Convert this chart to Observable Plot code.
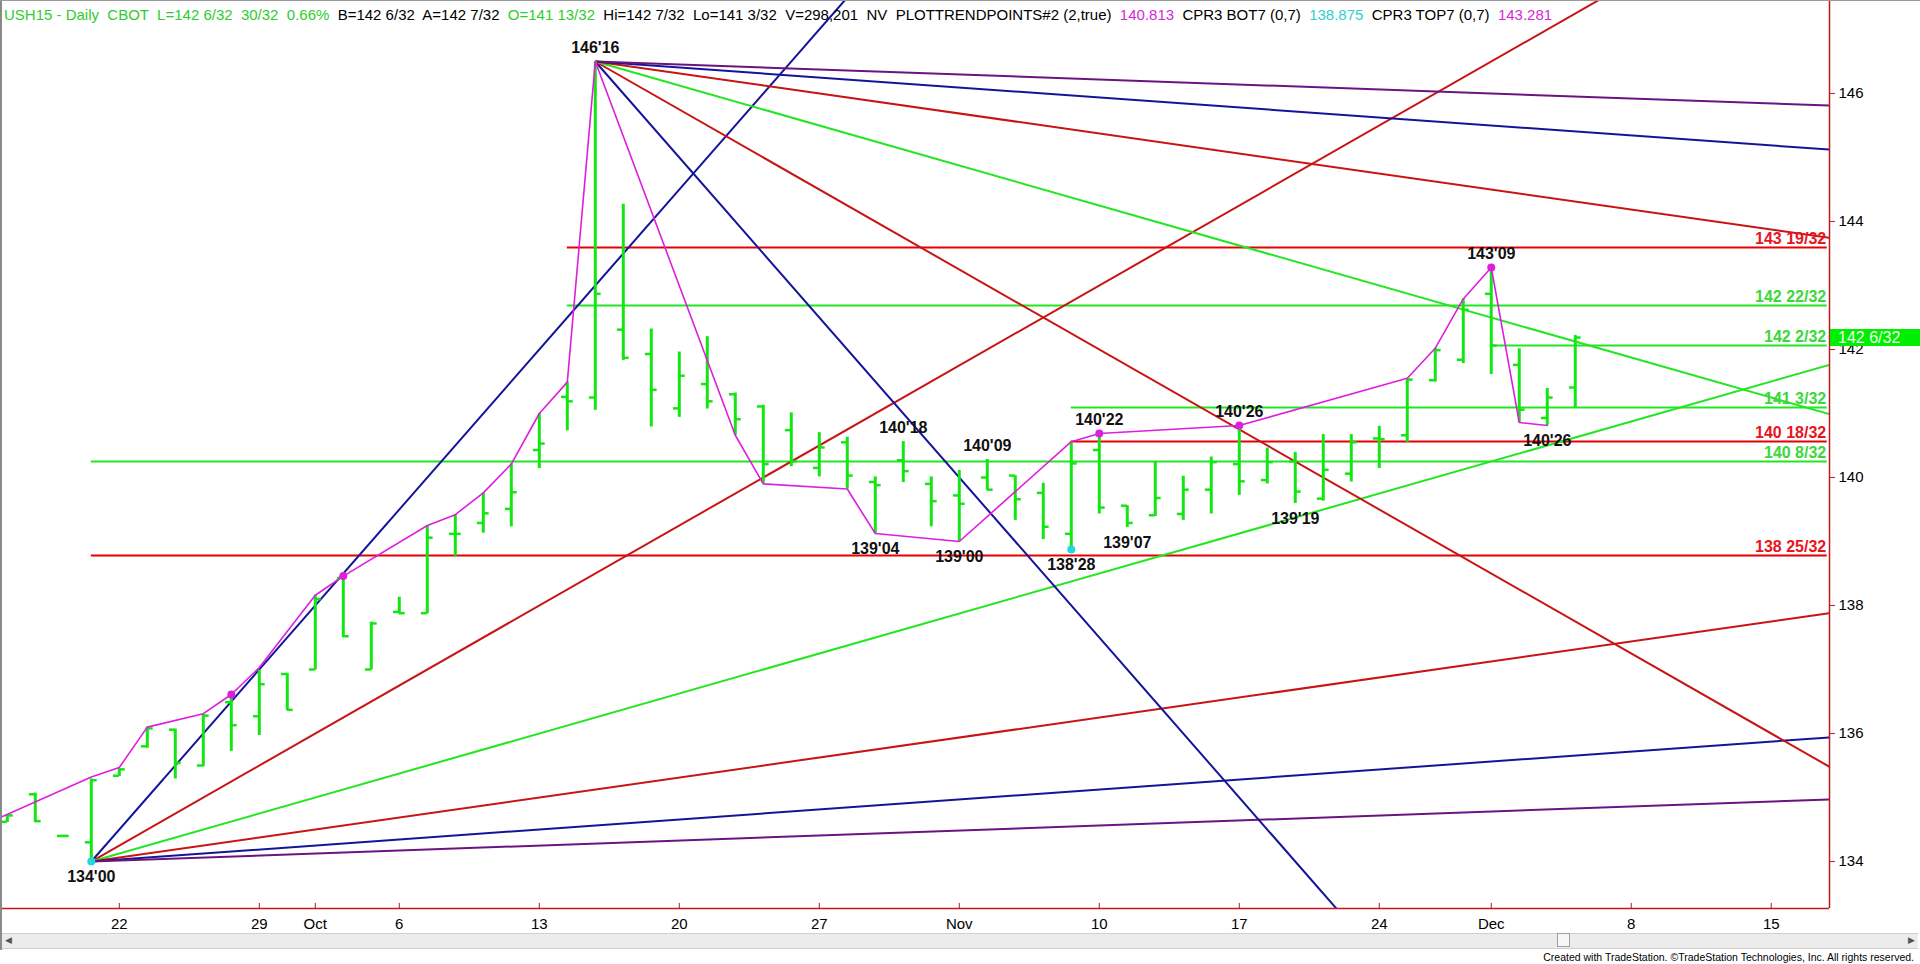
<!DOCTYPE html>
<html>
<head>
<meta charset="utf-8">
<script src="https://cdn.jsdelivr.net/npm/d3@7"></script>
<script src="https://cdn.jsdelivr.net/npm/@observablehq/plot@0.6"></script>
<style>
html,body{margin:0;padding:0;background:#fff;width:1920px;height:964px;overflow:hidden;}
#wrap{position:relative;width:1920px;height:964px;font-family:Arial,"Liberation Sans",sans-serif;}
#chart{position:absolute;left:0;top:0;}
#header{position:absolute;left:4px;top:6px;font-size:15px;line-height:18px;white-space:pre;color:#000;}
.g{color:#2ecc2e}.m{color:#d42ad4}.c{color:#2fcfcf}
#frameL{position:absolute;left:0;top:0;width:2px;height:950px;background:#8a8a8a;}
#frameT{position:absolute;left:0;top:0;width:1920px;height:1px;background:#9a9a9a;}
#scroll{position:absolute;left:2px;top:933px;width:1916px;height:14px;background:#ececec;border-top:1px solid #d0d0d0;border-bottom:1px solid #d0d0d0;}
#thumb{position:absolute;left:1557px;top:933px;width:13px;height:14px;background:#f7f7f7;border:1px solid #a0a0a0;box-sizing:border-box;}
.arr{position:absolute;top:933px;font-size:9px;color:#555;line-height:14px;}
#created{position:absolute;right:6px;top:951px;font-size:10.5px;color:#000;white-space:pre;}
#lastbox{position:absolute;left:1830px;width:90px;height:17px;background:#00ee00;color:#f2fff2;font-size:16px;line-height:17px;padding-left:8px;box-sizing:border-box;}
</style>
</head>
<body>
<div id="wrap">
  <div id="chart"></div>
  <div id="frameL"></div>
  <div id="frameT"></div>
  <div id="header"><span class="g">USH15 - Daily  CBOT  L=142 6/32  30/32  0.66%</span>  B=142 6/32  A=142 7/32  <span class="g">O=141 13/32</span>  Hi=142 7/32  Lo=141 3/32  V=298,201  NV  PLOTTRENDPOINTS#2 (2,true)  <span class="m">140.813</span>  CPR3 BOT7 (0,7)  <span class="c">138.875</span>  CPR3 TOP7 (0,7)  <span class="m">143.281</span></div>
  <div id="scroll"></div>
  <div id="thumb"></div>
  <div class="arr" style="left:5px">&#9664;</div>
  <div class="arr" style="left:1908px">&#9654;</div>
  <div id="created">Created with TradeStation. ©TradeStation Technologies, Inc. All rights reserved.</div>
</div>
<script>
// ---------------- DATA ----------------
// trading days: index 0 = Sep 22, 2014 (first bar Sep 16 = -4)
const barDates = ["Sep 16","Sep 17","Sep 18","Sep 19","Sep 22","Sep 23","Sep 24","Sep 25","Sep 26","Sep 29","Sep 30",
  "Oct 1","Oct 2","Oct 3","Oct 6","Oct 7","Oct 8","Oct 9","Oct 10","Oct 13","Oct 14","Oct 15","Oct 16","Oct 17",
  "Oct 20","Oct 21","Oct 22","Oct 23","Oct 24","Oct 27","Oct 28","Oct 29","Oct 30","Oct 31",
  "Nov 3","Nov 4","Nov 5","Nov 6","Nov 7","Nov 10","Nov 11","Nov 12","Nov 13","Nov 14","Nov 17","Nov 18","Nov 19",
  "Nov 20","Nov 21","Nov 24","Nov 25","Nov 26","Nov 28","Dec 1","Dec 2","Dec 3","Dec 4"];
const firstDay = -4;
const opens = [134.62,135.05,134.40,134.30,135.34,135.80,136.06,135.50,136.49,136.27,136.93,
  137.00,138.43,137.00,137.90,137.88,139.12,139.29,139.51,140.43,141.26,141.25,142.31,141.93,
  141.08,141.46,141.30,141.11,140.74,140.15,140.55,139.93,140.27,139.90,
  139.72,140.00,140.03,139.76,139.12,140.43,139.56,139.41,139.43,139.81,140.21,139.96,140.25,
  139.67,140.06,140.61,140.66,141.52,141.84,142.87,141.76,140.93,141.40625];
const highs = [134.72,135.07,134.41,135.29,135.45,136.10,136.07,136.30,136.62,136.99,136.94,
  138.16,138.45,137.74,138.13,139.25,139.42,139.76,140.21,141.00,141.49,146.50,144.27,142.32,
  141.96,142.20,141.32,141.13,141.01,140.70,140.63,140.01,140.5625,140.01,
  140.11,140.28125,140.03,139.91,140.56,140.6875,139.56,140.25,140.02,140.32,140.8125,140.46,140.39,
  140.67,140.67,140.80,141.55,142.02,142.79,143.28125,142.01,141.39,142.21875];
const lows = [134.61,134.61,134.39,134.00,135.33,135.77,135.29,135.48,135.72,135.97,136.36,
  136.99,137.50,136.99,137.87,137.87,138.77,139.13,139.23,140.14,140.73,141.05,141.83,140.79,
  140.94,141.07,140.66,139.90,140.17,140.01,139.82,139.125,139.92,139.23,
  139.00,139.80,139.33,139.03,138.875,139.43,139.21875,139.39,139.33,139.43,139.72,139.90,139.59375,
  139.63,139.93,140.14,140.55,141.49,141.78,141.61,140.86,140.8125,141.09375];
const closes = [134.72,134.63,134.40,135.27,135.44,136.08,135.54,136.28,136.13,136.77,136.37,
  138.10,137.52,137.72,137.88,139.06,139.12,139.44,139.77,140.53,141.19,142.87,141.87,141.37,
  141.59,141.19,140.91,140.21,140.25,140.47,140.03,139.88,140.10,139.63,
  139.59,139.81,139.66,139.23,140.22,139.53,139.29,139.68,139.81,140.24,139.94,140.24,139.78,
  140.12,140.55,140.60,141.53,141.99,142.62,142.06,141.06,141.25,142.1875];

// x-axis ticks (trading-day index) and labels
const tickDays = [0,5,7,10,15,20,25,30,35,40,45,49,54,59];
const tickLabels = ["22","29","Oct","6","13","20","27","Nov","10","17","24","Dec","8","15"];
const yTicks = [134,136,138,140,142,144,146];

// swing (trend point) line
const swingDays   = [-5,-1,0,1,3,4,5,7,8,11,12,13,14,15,16,17,22,23,26,27,30,34,35,40,46,47,48,49,50,51];
const swingPrices = [134.54,135.32,135.47,136.10,136.31,136.61,137.03,138.16,138.46,139.25,139.42,139.76,140.21,141.00,141.49,146.50,
  140.66,139.90,139.82,139.125,139.00,140.56,140.6875,140.8125,141.55,142.02,142.79,143.28125,140.86,140.8125];
const magDotDays = [4,8,35,40,49];
const magDotPrices = [136.61,138.46,140.6875,140.8125,143.28125];
const cyanDotDays = [-1,34];
const cyanDotPrices = [134.00,138.875];

// swing labels
const lblDays   = [17,-1,28,27,31,30,35,34,36,40,42,49,51];
const lblPrices = [146.5,134.0,140.5625,139.125,140.28125,139.0,140.6875,138.875,139.21875,140.8125,139.59375,143.28125,140.8125];
const lblTexts  = ["146'16","134'00","140'18","139'04","140'09","139'00","140'22","138'28","139'07","140'26","139'19","143'09","140'26"];
const lblAbove  = [true,false,true,false,true,false,true,false,false,true,false,true,false];

// retracement levels
const levelPrices = [143.59375,142.6875,142.0625,141.09375,140.5625,140.25,138.78125];
const levelTexts  = ["143 19/32","142 22/32","142 2/32","141 3/32","140 18/32","140 8/32","138 25/32"];
const levelStart  = [16,16,49,34,34,-1,-1];
const levelKind   = ["red","green","green","green","red","green","red"];

// Gann fans: anchors and slopes (points per trading day)
const fanAnchorDays = [-1,17];
const fanAnchorPrices = [134.0,146.5];
const fanDirection = [1,-1];
const gannSlopes = [0.5,0.25,0.125,0.0625,0.03125,0.015625];
const gannKind = ["blue","red","green","red","blue","purple"];

const lastPrice = 142.1875, lastText = "142 6/32";

// ---------------- STYLE ----------------
const COL = {green:"#22e622", red:"#e60000", gannRed:"#c81414", blue:"#14149b", purple:"#6a147e",
  bar:"#14e614", mag:"#dd1fdd", cyan:"#22d8e0", axis:"#c01818", lvlRed:"#e8141e", lvlGreen:"#3ad83a"};
const X_MIN = -4.243, X_MAX = 61.08, Y_MIN = 133.266, Y_MAX = 147.453;
const X_END = 61.0;       // right end of level lines
const TICK = 0.21;        // OHLC tick length (days)
const PLOT_H = 908;

// ---------------- BUILD ----------------
const bars = barDates.map((d,i)=>({date:d, day:firstDay+i, o:opens[i], h:highs[i], l:lows[i], c:closes[i]}));
const swing = swingDays.map((d,i)=>({day:d, price:swingPrices[i]}));
const magDots = magDotDays.map((d,i)=>({day:d, price:magDotPrices[i]}));
const cyanDots = cyanDotDays.map((d,i)=>({day:d, price:cyanDotPrices[i]}));
const labels = lblDays.map((d,i)=>({day:d, price:lblPrices[i], text:lblTexts[i], above:lblAbove[i]}));
const levels = levelPrices.map((p,i)=>({price:p, text:levelTexts[i], start:levelStart[i],
  line: levelKind[i]==="red"?COL.red:COL.green, txt: levelKind[i]==="red"?COL.lvlRed:COL.lvlGreen}));
const kindColor = {blue:COL.blue, red:COL.gannRed, green:COL.green, purple:COL.purple};
const gann = [];
fanAnchorDays.forEach((ad,a)=>{
  gannSlopes.forEach((s,k)=>{
    gann.push({x1:ad, y1:fanAnchorPrices[a], x2:X_MAX, y2:fanAnchorPrices[a]+fanDirection[a]*s*(X_MAX-ad), color:kindColor[gannKind[k]]});
  });
});
const pxPerPt = PLOT_H/(Y_MAX-Y_MIN);

const chart = Plot.plot({
  width:1920, height:964,
  marginLeft:0, marginRight:1920-1829, marginTop:0, marginBottom:964-PLOT_H,
  x:{type:"linear", domain:[X_MIN,X_MAX]},
  y:{type:"linear", domain:[Y_MIN,Y_MAX]},
  color:{type:"identity"},
  style:{fontFamily:"Arial, 'Liberation Sans', sans-serif", background:"transparent", overflow:"visible"},
  marks:[
    Plot.ruleY(levels,{y:"price", x1:"start", x2:()=>X_END, stroke:"line", strokeWidth:2}),
    Plot.link(gann,{x1:"x1", y1:"y1", x2:"x2", y2:"y2", stroke:"color", strokeWidth:2, clip:true}),
    Plot.ruleX(bars,{x:"day", y1:"l", y2:"h", stroke:COL.bar, strokeWidth:3}),
    Plot.ruleY(bars,{y:"o", x1:d=>d.day-TICK, x2:"day", stroke:COL.bar, strokeWidth:2.5}),
    Plot.ruleY(bars,{y:"c", x1:"day", x2:d=>d.day+TICK, stroke:COL.bar, strokeWidth:2.5}),
    Plot.line(swing,{x:"day", y:"price", stroke:COL.mag, strokeWidth:1.6, clip:true}),
    Plot.dot(magDots,{x:"day", y:"price", r:4, fill:COL.mag, stroke:null}),
    Plot.dot(cyanDots,{x:"day", y:"price", r:4, fill:COL.cyan, stroke:null}),
    Plot.text(labels.filter(d=>d.above),{x:"day", y:"price", text:"text", dy:-14, fontSize:16, fontWeight:"bold", fill:"#111"}),
    Plot.text(labels.filter(d=>!d.above),{x:"day", y:"price", text:"text", dy:15, fontSize:16, fontWeight:"bold", fill:"#111"}),
    Plot.text(levels,{x:()=>X_END, y:"price", text:"text", textAnchor:"end", dx:-1, dy:-9, fontSize:16, fontWeight:"bold", fill:"txt"}),
    Plot.ruleX([X_MAX],{stroke:COL.axis, strokeWidth:1.5}),
    Plot.ruleY([Y_MIN],{stroke:COL.axis, strokeWidth:1.5}),
    Plot.ruleX(tickDays,{x:d=>d, y1:()=>Y_MIN, y2:()=>Y_MIN+5/pxPerPt, stroke:COL.axis, strokeWidth:1}),
    Plot.axisX({ticks:tickDays, tickFormat:d=>tickLabels[tickDays.indexOf(d)], tickSize:0, tickPadding:10, fontSize:15, label:null}),
    Plot.axisY({anchor:"right", ticks:yTicks, tickFormat:d=>String(d), tickSize:5, tickPadding:4, fontSize:15, stroke:COL.axis, label:null})
  ]
});
document.getElementById("chart").appendChild(chart);
const yLast = chart.scale("y").apply(lastPrice);
const box = document.createElement("div");
box.id = "lastbox"; box.textContent = lastText;
box.style.top = (yLast - 8.5) + "px";
document.getElementById("wrap").appendChild(box);
</script>
</body>
</html>
